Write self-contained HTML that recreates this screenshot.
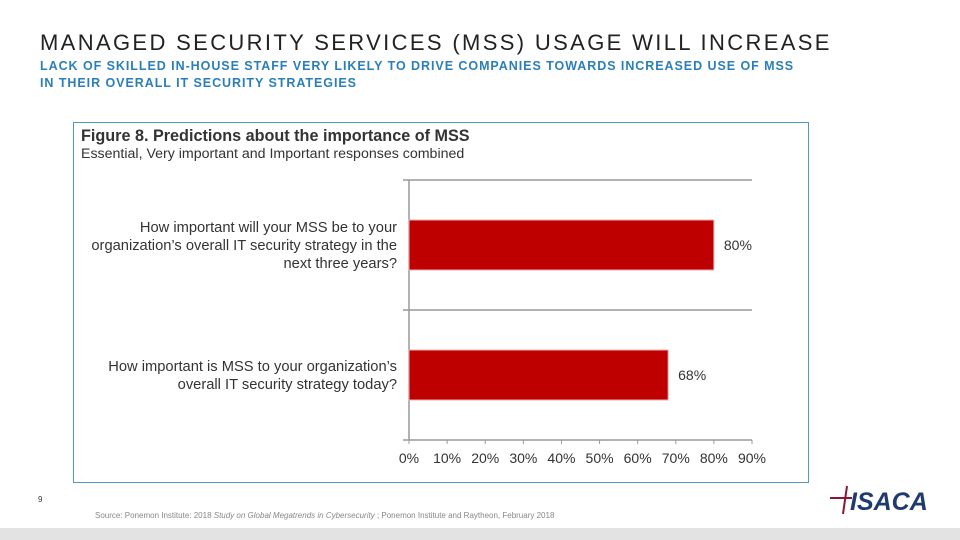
<!DOCTYPE html>
<html><head><meta charset="utf-8"><style>
body{margin:0;width:960px;height:540px;background:#fff;position:relative;overflow:hidden;font-family:"Liberation Sans",sans-serif}
.abs{position:absolute}
</style></head><body>
<div class="abs" style="left:40px;top:30px;font-size:22px;letter-spacing:2.35px;color:#222">MANAGED SECURITY SERVICES (MSS) USAGE WILL INCREASE</div>
<div class="abs" style="left:40px;top:58px;font-size:12.5px;letter-spacing:0.95px;line-height:17px;font-weight:bold;color:#2a7fb8">LACK OF SKILLED IN-HOUSE STAFF VERY LIKELY TO DRIVE COMPANIES TOWARDS INCREASED USE OF MSS<br>IN THEIR OVERALL IT SECURITY STRATEGIES</div>
<div class="abs" style="left:73px;top:122px;width:734px;height:359px;border:1px solid #4e9ac0"></div>
<div class="abs" style="left:81px;top:127px;font-size:16.2px;font-weight:bold;color:#333">Figure 8. Predictions about the importance of MSS</div>
<div class="abs" style="left:81px;top:146px;font-size:14.2px;color:#333">Essential, Very important and Important responses combined</div>
<svg class="abs" style="left:0;top:0" width="960" height="540" id="chart"></svg>
<div class="abs" style="left:38px;top:495px;font-size:8px;color:#333">9</div>
<div class="abs" style="left:95px;top:511px;font-size:8px;color:#888">Source: Ponemon Institute: 2018 <i>Study on Global Megatrends in Cybersecurity</i> ; Ponemon Institute and Raytheon, February 2018</div>
<div class="abs" style="left:830px;top:484px;width:100px;height:30px">
<svg width="100" height="32"><line x1="0" y1="14" x2="22" y2="14" stroke="#8a1538" stroke-width="2"/><line x1="17" y1="2" x2="13" y2="30" stroke="#8a1538" stroke-width="2"/><text x="20" y="26" font-family="Liberation Sans" font-weight="bold" font-style="italic" font-size="25" fill="#1f3a6e">ISACA</text></svg></div>
<div class="abs" style="left:0;top:528px;width:960px;height:12px;background:#e3e3e3"></div>
<script>
const categories=["How important will your MSS be to your|organization’s overall IT security strategy in the|next three years?","How important is MSS to your organization’s|overall IT security strategy today?"];
const values=[80,68];
const ticks=[0,10,20,30,40,50,60,70,80,90];
const svg=document.getElementById('chart');
const NS='http://www.w3.org/2000/svg';
const x0=409,xw=343/90,yTop=180,band=130;
const X=v=>x0+v*xw;
function mk(t,a,txt){const e=document.createElementNS(NS,t);for(const k in a)e.setAttribute(k,a[k]);if(txt!=null)e.textContent=txt;svg.appendChild(e);return e;}
for(let i=0;i<=categories.length;i++){
 const g=mk('line',{x1:403,x2:752,y1:yTop+i*band,y2:yTop+i*band,stroke:'#999','stroke-width':1.5});
 
 
}
const ax=mk('line',{x1:x0,x2:x0,y1:yTop,y2:yTop+band*categories.length,stroke:'#999','stroke-width':1.5});


ticks.forEach(t=>{
 const l=mk('line',{x1:X(t),x2:X(t),y1:440,y2:444,stroke:'#999'});
 
 
 const tx=mk('text',{x:X(t),y:463,'text-anchor':'middle','font-size':14,fill:'#333','font-family':'Liberation Sans'},t+'%');
 
 
});
values.forEach((v,i)=>{
 const yc=yTop+i*band+band/2;
 const r=mk('rect',{x:x0,y:yc-25,width:X(v)-x0,height:50,fill:'#bf0000',stroke:'#e8b0b0','stroke-width':1});
 
 
 const vl=mk('text',{x:X(v)+10,y:yc+5,'font-size':14,fill:'#333','font-family':'Liberation Sans'},v+'%');
 
 
 const lines=categories[i].split('|');
 lines.forEach((ln,j)=>{
  const c=mk('text',{x:397,y:yc+5+(j-(lines.length-1)/2)*18,'text-anchor':'end','font-size':14.7,fill:'#333','font-family':'Liberation Sans'},ln);
  
  
 });
});
</script>
</body></html>
